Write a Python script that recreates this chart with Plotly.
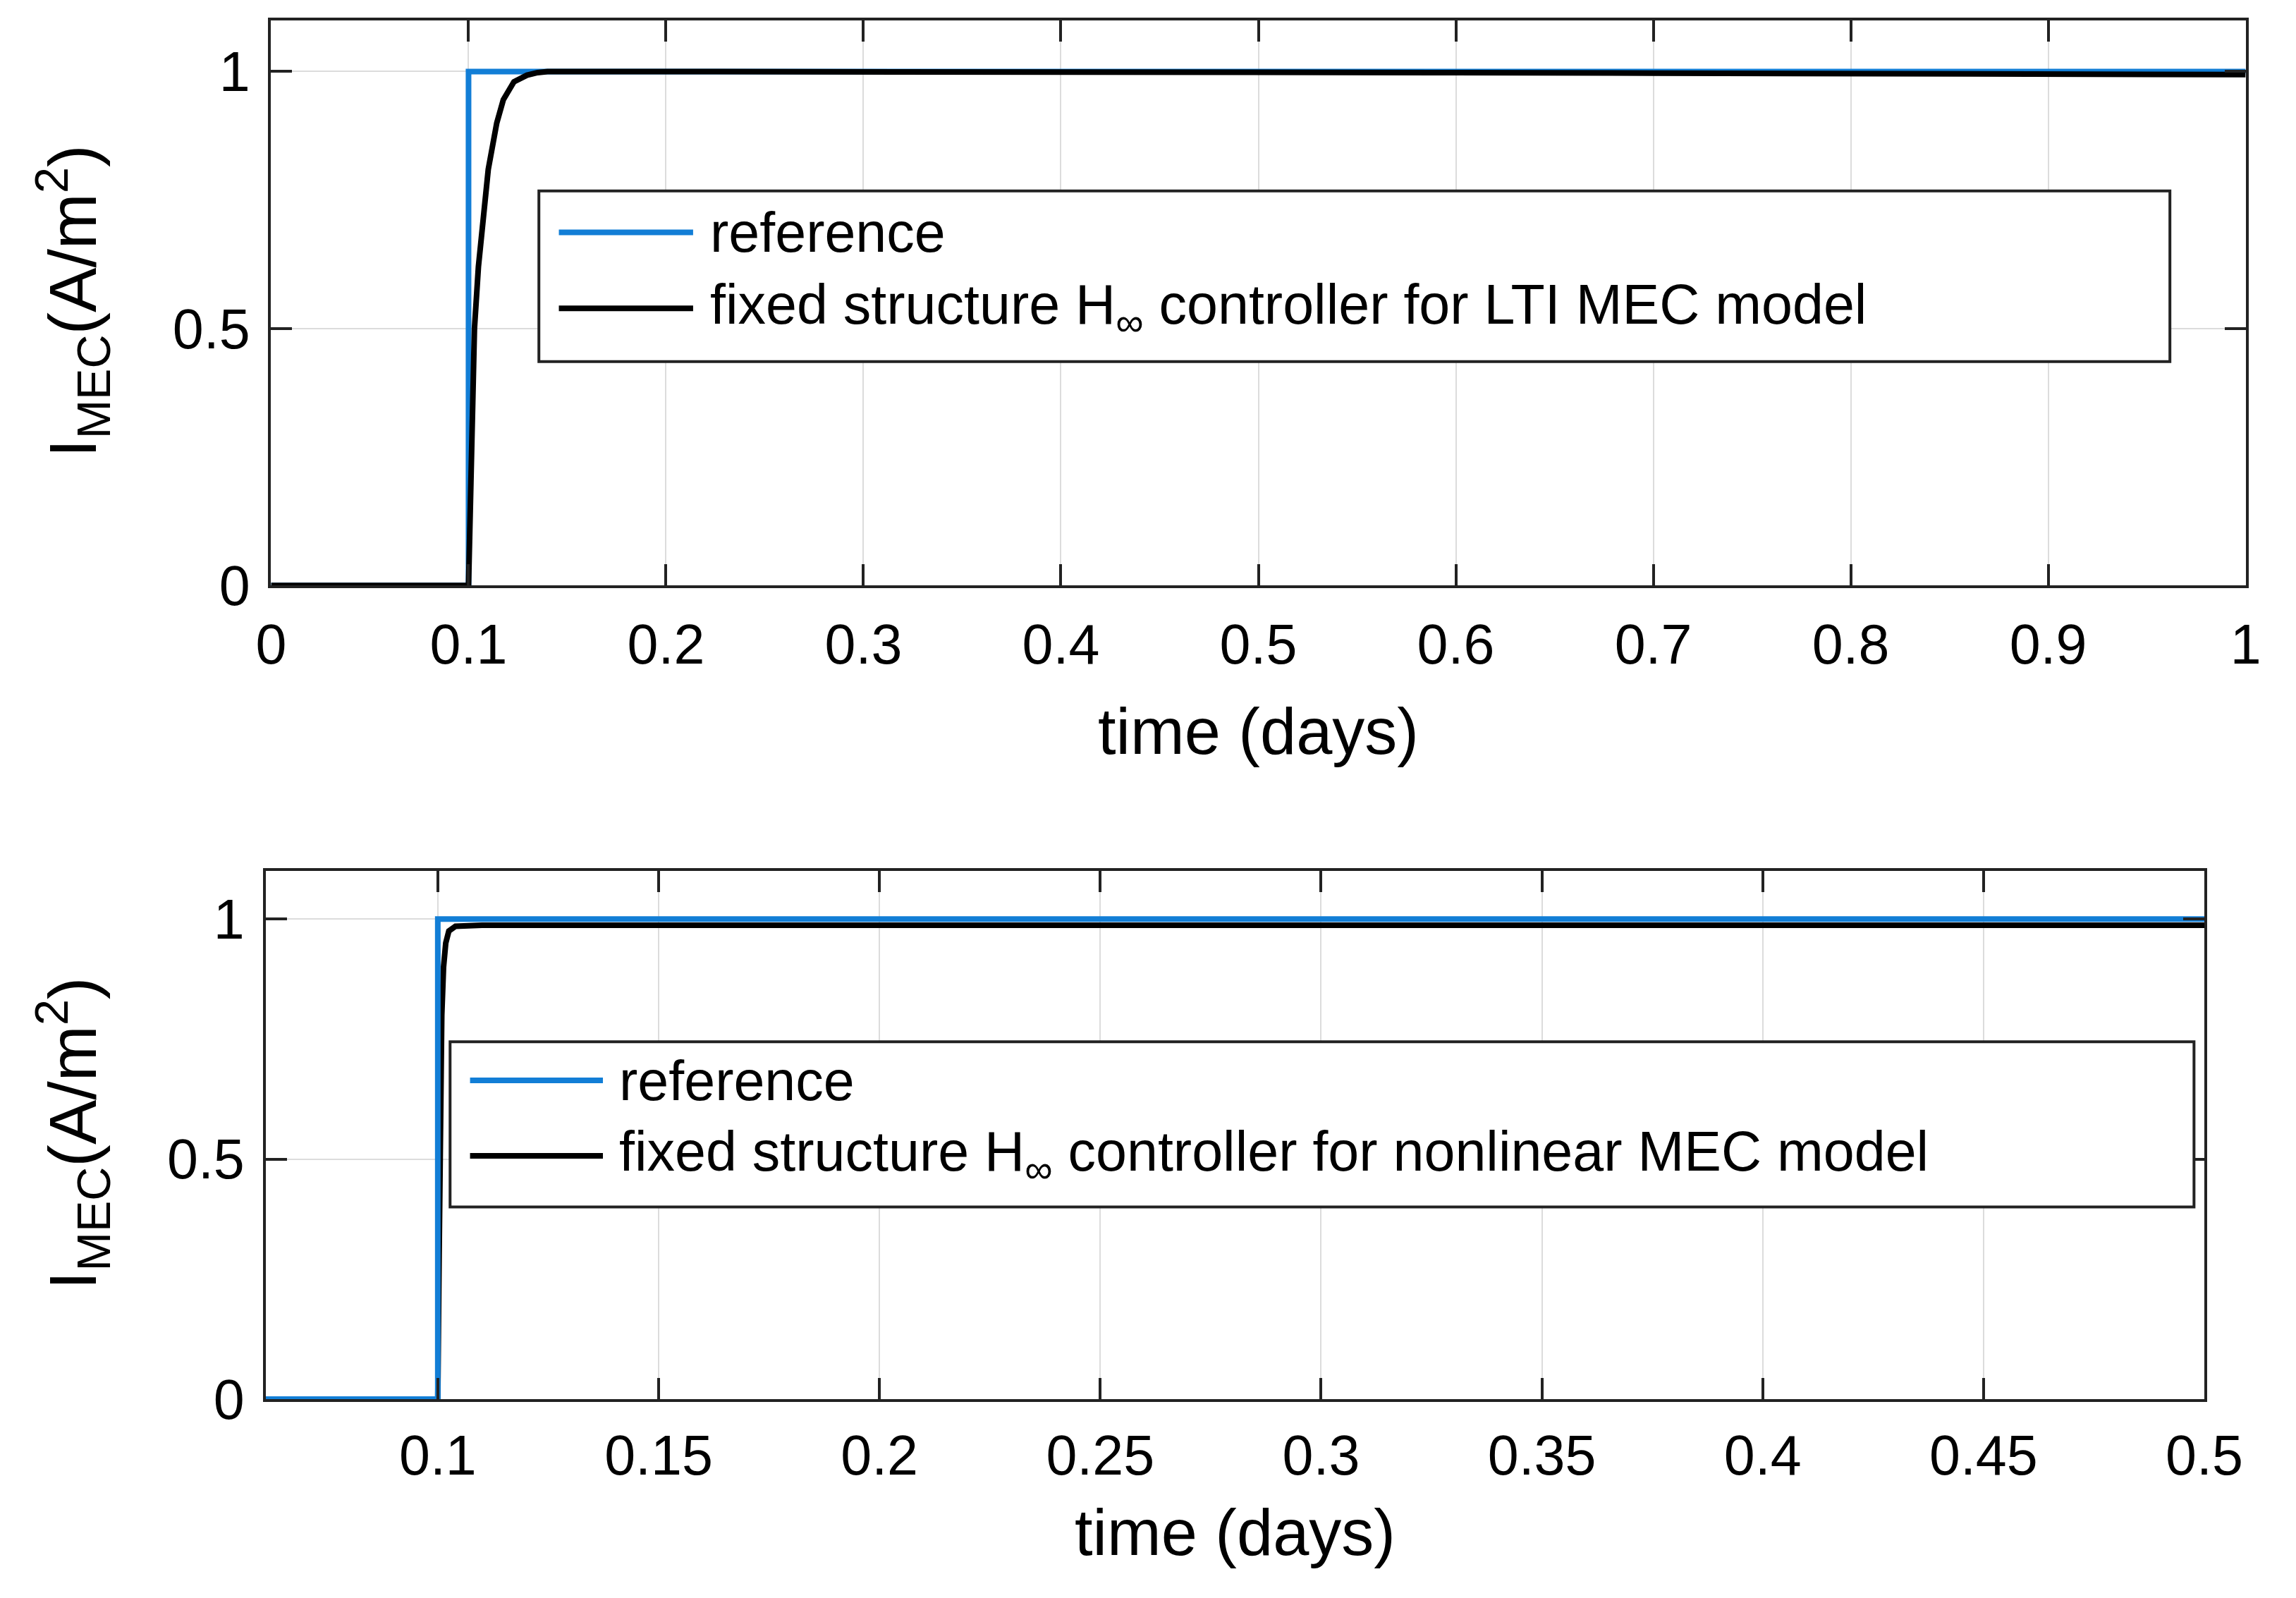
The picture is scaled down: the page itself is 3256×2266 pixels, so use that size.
import plotly.graph_objects as go

W, H = 3256, 2266

# ---------------- data ----------------
# top panel (LTI MEC model)
t_ref_top = [0.0, 0.1, 0.1, 1.0]
i_ref_top = [0.0, 0.0, 1.0, 1.0]
t_ctrl_top = [0.0, 0.1, 0.1012, 0.1022, 0.103, 0.105, 0.1076, 0.110, 0.1143, 0.1176,
              0.123, 0.1296, 0.135, 0.14, 0.2, 0.3, 0.4, 0.5, 0.6, 0.7, 0.8, 0.9, 1.0]
i_ctrl_top = [0.0, 0.0, 0.2, 0.35, 0.5, 0.62, 0.72, 0.81, 0.90, 0.945,
              0.98, 0.993, 0.998, 1.0, 1.0, 1.0, 1.0, 0.999, 0.998, 0.997, 0.996, 0.995, 0.994]

# bottom panel (nonlinear MEC model)
t_ref_bot = [0.061, 0.1, 0.1, 0.5]
i_ref_bot = [0.0, 0.0, 1.0, 1.0]
t_ctrl_bot = [0.061, 0.1, 0.1003, 0.1006, 0.1009, 0.1013, 0.1018, 0.1025, 0.104, 0.11,
              0.2, 0.3, 0.4, 0.5]
i_ctrl_bot = [0.0, 0.0, 0.3, 0.6, 0.8, 0.9, 0.95, 0.975, 0.985, 0.987,
              0.987, 0.987, 0.987, 0.987]

top_xticks = [0, 0.1, 0.2, 0.3, 0.4, 0.5, 0.6, 0.7, 0.8, 0.9, 1.0]
top_xlabels = ["0", "0.1", "0.2", "0.3", "0.4", "0.5", "0.6", "0.7", "0.8", "0.9", "1"]
bot_xticks = [0.1, 0.15, 0.2, 0.25, 0.3, 0.35, 0.4, 0.45, 0.5]
bot_xlabels = ["0.1", "0.15", "0.2", "0.25", "0.3", "0.35", "0.4", "0.45", "0.5"]
yticks = [0, 0.5, 1]
ylabels = ["0", "0.5", "1"]

legend_top = ["reference", "fixed structure H<sub>\u221e</sub> controller for LTI MEC model"]
legend_bot = ["reference", "fixed structure H<sub>\u221e</sub> controller for nonlinear MEC model"]
x_title = "time (days)"
y_title = "I<sub>MEC</sub>(A/m<sup>2</sup>)"

BLUE = "rgb(18,126,214)"
BLACK = "#000000"
AXC = "#222222"
GRID = "#dcdcdc"
FONT = "Liberation Sans, Arial, sans-serif"


def px(x):
    return x / W


def py(y):
    return 1 - y / H


fig = go.Figure()
# top: blue first, black on top
fig.add_trace(go.Scatter(x=t_ref_top, y=i_ref_top, mode="lines", line=dict(color=BLUE, width=8),
                         xaxis="x", yaxis="y", showlegend=False))
fig.add_trace(go.Scatter(x=t_ctrl_top, y=i_ctrl_top, mode="lines", line=dict(color=BLACK, width=8),
                         xaxis="x", yaxis="y", showlegend=False))
# bottom: black first, blue on top
fig.add_trace(go.Scatter(x=t_ctrl_bot, y=i_ctrl_bot, mode="lines", line=dict(color=BLACK, width=8),
                         xaxis="x2", yaxis="y2", showlegend=False))
fig.add_trace(go.Scatter(x=t_ref_bot, y=i_ref_bot, mode="lines", line=dict(color=BLUE, width=8),
                         xaxis="x2", yaxis="y2", showlegend=False))

axis_common = dict(showline=True, linecolor=AXC, linewidth=4, mirror="ticks",
                   ticks="inside", ticklen=30, tickwidth=4, tickcolor=AXC,
                   showgrid=True, gridcolor=GRID, gridwidth=2, zeroline=False,
                   tickfont=dict(family=FONT, size=79, color="#000000"))

top_dom_x = [px(363), px(3231)]
top_dom_y = [py(839), py(21)]
bot_dom_x = [px(355), px(3171)]
bot_dom_y = [py(2016), py(1252)]

fig.update_layout(
    width=W, height=H,
    margin=dict(l=0, r=0, t=0, b=0),
    paper_bgcolor="white", plot_bgcolor="white",
    xaxis=dict(domain=top_dom_x, anchor="y", range=[0, 1], tickvals=top_xticks, ticktext=top_xlabels,
               ticklabelstandoff=12, **axis_common),
    yaxis=dict(domain=top_dom_y, anchor="x", range=[0, 1.1], tickvals=yticks, ticktext=ylabels,
               ticklabelstandoff=10, **axis_common),
    xaxis2=dict(domain=bot_dom_x, anchor="y2", range=[0.061, 0.5], tickvals=bot_xticks, ticktext=bot_xlabels,
                ticklabelstandoff=8, **axis_common),
    yaxis2=dict(domain=bot_dom_y, anchor="x2", range=[0, 1.1], tickvals=yticks, ticktext=ylabels,
                ticklabelstandoff=10, **axis_common),
    showlegend=False,
)

annotations = []
shapes = []

# axis titles
for xc, yc in [((363 + 3231) / 2, 1050), ((355 + 3171) / 2, 2209)]:
    annotations.append(dict(text=x_title, x=px(xc), y=py(yc), xref="paper", yref="paper",
                            xanchor="center", yanchor="middle", showarrow=False,
                            font=dict(family=FONT, size=92, color="#000000")))
for yc in [428, 1632]:
    annotations.append(dict(text=y_title, x=px(74), y=py(yc), xref="paper", yref="paper",
                            xanchor="center", yanchor="middle", showarrow=False, textangle=-90,
                            font=dict(family=FONT, size=95, color="#000000")))

# legends (box, sample lines, labels)
legend_specs = [
    dict(box=(752, 268, 3121, 515), lx=(781, 976), ly=(328, 438), tx=999, labels=legend_top),
    dict(box=(623, 1499, 3156, 1738), lx=(652, 845), ly=(1555, 1664), tx=866, labels=legend_bot),
]
for spec in legend_specs:
    x0, y0, x1, y1 = spec["box"]
    shapes.append(dict(type="rect", xref="paper", yref="paper", x0=px(x0), x1=px(x1), y0=py(y1), y1=py(y0),
                       line=dict(color=AXC, width=4), fillcolor="white", layer="above"))
    for col, yy, lab in zip([BLUE, BLACK], spec["ly"], spec["labels"]):
        shapes.append(dict(type="line", xref="paper", yref="paper", x0=px(spec["lx"][0]), x1=px(spec["lx"][1]),
                           y0=py(yy), y1=py(yy), line=dict(color=col, width=8), layer="above"))
        annotations.append(dict(text=lab, x=px(spec["tx"]), y=py(yy), xref="paper", yref="paper",
                                xanchor="left", yanchor="middle", showarrow=False,
                                font=dict(family=FONT, size=79, color="#000000")))

fig.update_layout(annotations=annotations, shapes=shapes)
fig.write_html("out.html")
